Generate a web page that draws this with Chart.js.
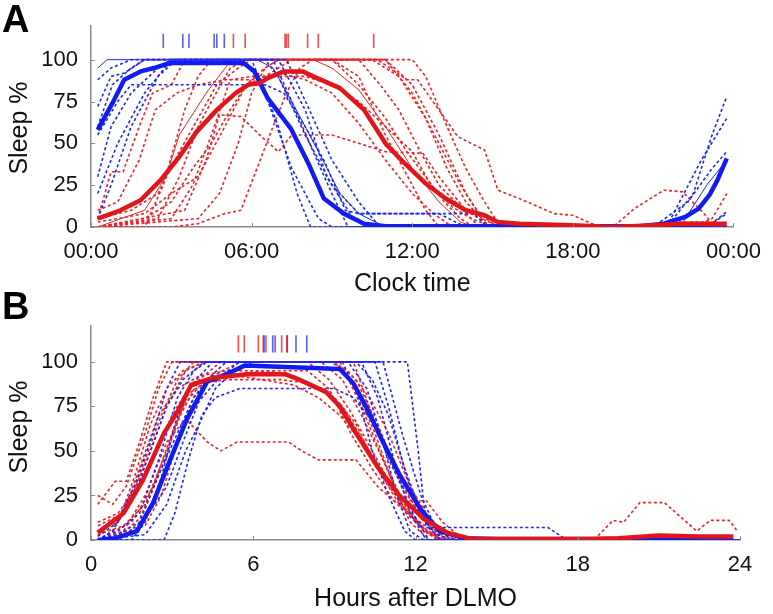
<!DOCTYPE html>
<html>
<head>
<meta charset="utf-8">
<script src="https://cdn.jsdelivr.net/npm/chart.js@4.4.1/dist/chart.umd.min.js"></script>
<style>
  body { margin: 0; background: #fff; }
  #wrap { position: relative; width: 773px; height: 614px; overflow: hidden; }
  .panel { position: absolute; left: 0; width: 773px; }
  .letter { position: absolute; left: 2px; font: bold 38px "Liberation Sans", Arial, sans-serif; line-height: 38px; color: #000; }
</style>
</head>
<body>
<div id="wrap">
  <div class="panel" style="top:0;height:300px"><canvas id="chartA" width="773" height="300"></canvas></div>
  <div class="panel" style="top:300px;height:314px"><canvas id="chartB" width="773" height="314"></canvas></div>
  <div class="letter" style="top:0px">A</div>
  <div class="letter" style="top:287px">B</div>
</div>
<script>
// Tick values and labels
const yTickValues = [0, 25, 50, 75, 100];
const xTickValues = [0, 6, 12, 18, 24];
const xLabelsA = ['00:00', '06:00', '12:00', '18:00', '00:00'];
const xLabelsB = ['0', '6', '12', '18', '24'];

// Panel A: sleep % by clock time, one [hour, value] list per subject
const blueA = [
    [[0.25,88],[0.75,95],[1.5,100],[5.5,100],[6.3,90],[7,60],[7.7,20],[8.2,0],[23,0],[23.75,8]],
    [[0.25,72],[0.75,90],[1.25,92],[2,100],[6,100],[6.5,80],[7.5,35],[8.5,5],[9,0],[21.5,0],[22.5,20],[23.2,55],[23.75,78]],
    [[0.25,55],[1,75],[1.5,85],[6.5,85],[7.2,80],[8,60],[8.7,40],[9.5,10],[10,8],[14.3,8],[14.8,0],[23.75,0]],
    [[0.25,30],[0.75,60],[1.5,80],[2.5,95],[3,100],[6.8,100],[7.5,75],[8.3,45],[9,20],[9.6,0],[21,0],[22.3,15],[23.2,35],[23.75,45]],
    [[0.25,20],[1,50],[2,80],[3,100],[7,100],[8,70],[8.8,30],[9.8,5],[10.3,0],[23.75,0]],
    [[0.25,5],[0.75,25],[1.5,60],[2.5,90],[3.2,100],[7.3,100],[8.3,65],[9,40],[10,15],[10.8,0],[23,0],[23.75,9]],
    [[0.25,95],[0.6,100],[6.2,100],[6.8,95],[7.6,72],[8.5,45],[9.3,20],[10,8],[11,0],[22,0],[23,25],[23.75,40]],
    [[0.25,60],[0.8,85],[1.5,95],[2,100],[6.5,100],[7,90],[8,55],[9,25],[10,8],[13,8],[14,0],[21.5,0],[22.8,40],[23.75,65]]
];
const redA = [
    [[0.25,5],[0.75,33],[1.2,33],[1.8,60],[2.3,80],[3,85],[3.5,100],[9,100],[10,90],[11,55],[12,25],[12.5,10],[13,0],[23.75,0]],
    [[0.25,0],[2,10],[2.8,30],[3.3,55],[4.3,80],[5.25,100],[8.3,100],[9,95],[10,82],[11,60],[12,35],[13,15],[13.8,3],[14.3,0],[23.75,0]],
    [[0.25,0],[2,0],[2.7,25],[3.5,70],[4,90],[4.5,100],[10.7,100],[11.8,88],[12.2,88],[13.7,54],[14.7,46],[15.2,22],[16,17],[17.3,8],[18,7],[19,0],[23.75,0]],
    [[0.25,0],[2.5,5],[3.3,30],[4,60],[4.5,75],[5.2,95],[5.8,100],[11,100],[12,85],[13,55],[14,20],[14.8,0],[23.75,0]],
    [[0.25,0],[3,5],[3.8,25],[4.5,55],[5.2,88],[6,90],[8,90],[9,85],[10,75],[11,60],[12,45],[12.7,25],[13.5,12],[14.2,5],[15,0],[23.75,0]],
    [[0.25,0],[3.5,10],[4.3,40],[4.8,67],[5.6,66],[6.3,55],[7,45],[7.5,55],[9,55],[10,50],[11,45],[12.4,44],[13,30],[14,10],[15,0],[23.75,0]],
    [[0.25,0],[4,5],[4.8,20],[5.5,50],[6,80],[6.5,95],[7,100],[12,100],[12.5,90],[13.3,60],[14,35],[14.7,15],[15.3,0],[23.75,0]],
    [[0.25,0],[3,0],[4,2],[5,8],[5.6,10],[6.2,35],[6.8,60],[7.3,80],[7.8,95],[8.3,100],[11,100],[12,80],[13,50],[13.8,25],[14.5,8],[15.2,0],[23.75,0]],
    [[0.25,10],[1,15],[1.8,40],[2.4,70],[3.2,80],[4,85],[5,88],[6,88],[7,92],[8,88],[9,80],[10,62],[11,40],[12,20],[12.8,8],[13.5,0],[19.5,0],[20.3,11],[21.4,22],[22.1,21],[22.9,8],[23.3,0],[23.75,0]],
    [[0.25,5],[1.5,10],[2.5,20],[3.3,45],[4,65],[4.7,85],[5.5,95],[6,100],[10,100],[10.8,85],[11.5,70],[12.3,45],[13,25],[13.8,12],[14.5,0],[22.5,0],[23.2,5],[23.75,20]],
    [[0.25,0],[2,5],[3,15],[3.8,35],[4.5,50],[5.2,70],[5.8,85],[6.5,90],[7.5,100],[9,100],[10,85],[11,65],[11.8,45],[12.5,30],[13.2,15],[13.8,5],[14.3,0],[21,0],[22,3],[23,3],[23.75,0]],
    [[0.25,3],[1,5],[2,8],[3,20],[4,30],[5,60],[5.8,85],[6.5,95],[7,100],[10.5,100],[11.5,90],[12.5,65],[13.3,35],[14,15],[14.6,5],[15.3,0],[23.75,0]]
];
const blueMeanA = [[0.25,58],[0.8,74],[1.24,88],[1.85,93],[2.35,95],[2.95,98],[5.7,98],[6.1,93],[6.6,77],[7.46,59],[8.15,37],[8.7,17],[9.45,8],[10.2,2],[11,0.5],[20.5,0.5],[21.4,2],[22.2,6],[22.7,11],[23.1,19],[23.4,28],[23.75,41]];
const redMeanA = [[0.25,5],[1.1,10],[1.85,16],[2.6,28],[3.3,42],[3.95,57],[4.7,70],[5.4,80],[5.87,85],[6.3,86],[6.6,89],[7.2,93],[7.9,93],[8.3,90],[9.3,83],[10.2,70],[11,50],[11.65,39],[12.5,26],[13.25,17],[14,10],[14.7,7],[15.2,3],[16,2],[18,1],[19.5,0],[21,1],[22,2],[23.75,2]];
const blueRugA = [2.7, 3.43, 3.66, 4.6, 4.7, 4.98];
const redRugA = [5.32, 5.76, 7.25, 7.3, 7.37, 8.09, 8.49, 10.56];

// Panel B: sleep % by hours after DLMO
const blueB = [
    [[0.25,0],[1,5],[1.8,15],[2.5,45],[3.2,80],[3.8,95],[4.3,100],[9.5,100],[10.2,85],[10.8,55],[11.3,25],[11.8,5],[12.3,0],[24,0]],
    [[0.25,0],[1.5,0],[2,10],[2.6,35],[3.1,65],[3.6,85],[4.5,100],[10,100],[10.6,80],[11.2,45],[11.8,15],[12.4,0],[24,0]],
    [[0.25,0],[2.7,0],[3.1,15],[3.6,45],[4.1,70],[4.6,80],[5.5,85],[9,85],[9.7,80],[10.5,65],[11.2,40],[11.9,15],[12.5,0],[24,0]],
    [[0.25,0],[0.8,5],[1.6,30],[2.3,60],[2.8,85],[3.3,100],[11.7,100],[12.1,50],[12.4,7],[13,7],[16.9,7],[17.6,0],[24,0]],
    [[0.25,0],[1,3],[1.8,10],[2.6,40],[3.2,60],[3.8,80],[4.3,90],[5,100],[9.8,100],[10.4,90],[11,70],[11.6,40],[12.3,12],[12.9,0],[24,0]],
    [[0.25,0],[2,3],[2.8,20],[3.5,50],[4,65],[4.6,85],[5.3,95],[6,100],[9.3,100],[9.9,80],[10.4,50],[11,25],[11.6,5],[12,0],[24,0]],
    [[0.25,2],[1,10],[1.6,25],[2.2,50],[2.8,75],[3.4,90],[4.2,100],[10.5,100],[11,75],[11.5,45],[12,20],[12.6,5],[13.2,0],[24,0]],
    [[0.25,0],[1.2,2],[2,12],[2.8,30],[3.4,55],[4,78],[4.8,92],[5.5,100],[10.8,100],[11.5,60],[12.2,25],[12.8,5],[13.5,0],[24,0]]
];
const redB = [
    [[0.25,20],[0.9,33],[1.3,33],[1.8,55],[2.3,80],[2.8,100],[9,100],[9.8,85],[10.5,60],[11.2,30],[11.8,10],[12.5,0],[24,0]],
    [[0.25,25],[0.8,20],[1.3,30],[2,60],[2.5,85],[3,100],[9.2,100],[10,75],[10.8,45],[11.5,20],[12.3,5],[13,0],[24,0]],
    [[0.25,5],[1,10],[1.6,35],[2.2,65],[2.8,85],[3.4,95],[4.2,100],[8.5,100],[9.3,90],[10,70],[10.8,45],[11.6,20],[12.4,5],[13,0],[24,0]],
    [[0.25,0],[1.2,5],[2,25],[2.8,55],[3.5,68],[4.3,55],[4.8,50],[5.4,55],[7.3,55],[7.8,50],[8.4,45],[9.8,45],[10.6,30],[11.2,22],[12.4,22],[13,10],[13.8,0],[24,0]],
    [[0.25,3],[1.2,8],[2,20],[2.8,50],[3.4,75],[4.1,88],[5,90],[7,90],[8,88],[9,80],[9.8,65],[10.6,40],[11.4,20],[12.2,8],[13,0],[24,0]],
    [[0.25,0],[1,2],[1.8,12],[2.6,40],[3.3,70],[4,90],[4.8,100],[8.8,100],[9.5,95],[10.3,80],[11,60],[11.8,30],[12.6,10],[13.3,0],[24,0]],
    [[0.25,8],[1.2,15],[1.9,45],[2.5,70],[3.2,85],[4,92],[5,95],[8,95],[8.8,85],[9.6,60],[10.4,40],[11.2,22],[12,10],[12.8,0],[24,0]],
    [[0.25,0],[1.5,10],[2.3,30],[3,60],[3.6,82],[4.4,90],[5.5,92],[7.5,87],[8.4,80],[9.2,70],[10,55],[10.8,35],[11.6,18],[12.4,5],[13.2,0],[18.6,0],[19.3,11],[19.7,10],[20.3,21],[21.2,21],[22.4,5],[22.9,11],[23.6,11],[23.9,5]],
    [[0.25,0],[0.8,5],[1.4,20],[2,45],[2.6,70],[3.2,90],[3.8,100],[9.7,100],[10.4,70],[11,45],[11.7,25],[12.5,8],[13.2,0],[24,0]],
    [[0.25,5],[1,12],[1.7,30],[2.4,50],[3,70],[3.6,85],[4.5,92],[6.5,95],[7.5,92],[8.5,85],[9.3,75],[10.1,55],[10.9,35],[11.7,15],[12.5,3],[13,0],[24,0]],
    [[0.25,0],[2,8],[2.6,25],[3.2,55],[3.8,80],[4.5,92],[5.5,100],[9,100],[9.8,90],[10.6,65],[11.4,35],[12.2,12],[13,2],[13.6,0],[24,0]],
    [[0.25,10],[1,15],[1.6,28],[2.2,50],[2.8,75],[3.5,95],[4.2,100],[8,100],[8.8,90],[9.6,72],[10.4,50],[11.2,28],[12,12],[12.8,3],[13.4,0],[24,0]]
];
const blueMeanB = [[0.25,0],[0.9,1],[1.7,5],[2.3,21],[2.9,44],[3.55,68],[4.3,89],[5,93],[5.7,98],[9.2,96],[9.7,88],[10.2,74],[10.7,58],[11.4,37],[12.2,17],[12.9,5],[13.8,1],[15,0.5],[23.75,0.5]];
const redMeanB = [[0.25,4],[1.2,15],[1.9,33],[2.7,60],[3.2,72],[3.7,87],[4.5,91],[5.8,93],[7.2,93],[7.7,90],[8.7,83],[9.2,75],[9.8,60],[10.6,41],[11.4,25],[12.3,12],[13.2,4],[14.1,0.5],[18.5,0.5],[19.5,1],[21,2.5],[22.5,2],[23.75,2]];
const blueRugB = [6.4, 6.72, 6.81, 7.26, 7.58, 7.98];
const redRugB = [5.45, 5.67, 6.19, 6.37, 6.47, 7.05, 7.24];

const RED = 'rgb(225,22,28)';
const BLUE = 'rgb(18,28,238)';
const RED_DASH = 'rgb(232,36,40)';
const BLUE_DASH = 'rgb(30,40,240)';
const RED_RUG = 'rgba(225,22,28,0.75)';
const BLUE_RUG = 'rgba(18,28,238,0.7)';
const AXIS = '#8a8a8a';
const FONT = '"Liberation Sans", Arial, Helvetica, sans-serif';

function toPts(list) {
    return list.map(p => ({ x: p[0], y: p[1] }));
}

function subjectSet(list, color, solidIndex) {
    return list.map((s, i) => ({
        data: toPts(s),
        borderColor: color,
        borderWidth: i === solidIndex ? 1 : 1.6,
        borderDash: i === solidIndex ? [] : [3, 2.5],
    }));
}

function rugSet(hours, color, lo, hi) {
    return hours.map(h => ({
        data: [{ x: h, y: lo }, { x: h, y: hi }],
        borderColor: color,
        borderWidth: 1.6,
    }));
}

// draws inward tick marks and the rotated y title
const axisExtras = {
    id: 'axisExtras',
    afterDraw(chart, args, opts) {
        const { ctx, chartArea, scales } = chart;
        ctx.save();
        ctx.strokeStyle = AXIS;
        ctx.lineWidth = 1;
        yTickValues.forEach(v => {
            const py = Math.round(scales.y.getPixelForValue(v)) + 0.5;
            ctx.beginPath();
            ctx.moveTo(chartArea.left, py);
            ctx.lineTo(chartArea.left + 4, py);
            ctx.stroke();
        });
        xTickValues.forEach(v => {
            const px = Math.round(scales.x.getPixelForValue(v)) + 0.5;
            ctx.beginPath();
            ctx.moveTo(px, chartArea.bottom);
            ctx.lineTo(px, chartArea.bottom - 4);
            ctx.stroke();
        });
        ctx.translate(opts.titleX, opts.titleY);
        ctx.rotate(-Math.PI / 2);
        ctx.font = '25px ' + FONT;
        ctx.fillStyle = '#111';
        ctx.textAlign = 'center';
        ctx.textBaseline = 'middle';
        ctx.fillText('Sleep %', 0, 0);
        ctx.restore();
    }
};

function makeChart(id, p) {
    const datasets = [
        { data: toPts(p.redMean), borderColor: RED, borderWidth: 4.5 },
        { data: toPts(p.blueMean), borderColor: BLUE, borderWidth: 4.5 },
        ...rugSet(p.redRug, RED_RUG, p.rugLo, p.rugHi),
        ...rugSet(p.blueRug, BLUE_RUG, p.rugLo, p.rugHi),
        ...subjectSet(p.blue, BLUE_DASH, p.blueSolid),
        ...subjectSet(p.red, RED_DASH, p.redSolid),
    ];
    datasets.forEach(d => {
        d.pointRadius = 0;
        d.fill = false;
        d.tension = 0;
        d.borderJoinStyle = 'round';
        d.borderCapStyle = 'butt';
    });

    return new Chart(document.getElementById(id), {
        type: 'line',
        data: { datasets },
        plugins: [axisExtras],
        options: {
            responsive: false,
            animation: false,
            devicePixelRatio: 1,
            layout: { padding: { top: p.top, right: 33, left: 0, bottom: 0 } },
            plugins: {
                legend: { display: false },
                tooltip: { enabled: false },
                axisExtras: { titleX: 20, titleY: p.yTitleY },
            },
            scales: {
                x: {
                    type: 'linear',
                    min: 0,
                    max: 24,
                    afterFit: s => { s.height = p.xHeight; },
                    afterBuildTicks: s => { s.ticks = xTickValues.map(v => ({ value: v })); },
                    ticks: {
                        autoSkip: false,
                        maxRotation: 0,
                        padding: p.tickPad,
                        color: '#111',
                        font: { size: 22, family: FONT },
                        callback: (v, i) => p.labels[i],
                    },
                    grid: { display: false, drawTicks: false },
                    border: { display: true, color: AXIS, width: 1.5 },
                    title: {
                        display: true,
                        text: p.xTitle,
                        color: '#111',
                        font: { size: 25, family: FONT },
                        padding: { top: 0, bottom: p.titlePad },
                    },
                },
                y: {
                    min: 0,
                    max: 120,
                    afterFit: s => { s.width = 91; },
                    afterBuildTicks: s => { s.ticks = yTickValues.map(v => ({ value: v })); },
                    ticks: {
                        padding: 13,
                        color: '#111',
                        font: { size: 22, family: FONT },
                    },
                    grid: { display: false, drawTicks: false },
                    border: { display: true, color: AXIS, width: 1.5 },
                },
            },
        },
    });
}

makeChart('chartA', {
    top: 10, xHeight: 73, tickPad: 12, titlePad: 1, yTitleY: 128,
    labels: xLabelsA, xTitle: 'Clock time',
    blue: blueA, red: redA, blueSolid: 6, redSolid: 1,
    blueMean: blueMeanA, redMean: redMeanA,
    blueRug: blueRugA, redRug: redRugA, rugLo: 107, rugHi: 115.5,
});

makeChart('chartB', {
    top: 12, xHeight: 74, tickPad: 12, titlePad: 0, yTitleY: 127,
    labels: xLabelsB, xTitle: 'Hours after DLMO',
    blue: blueB, red: redB, blueSolid: -1, redSolid: -1,
    blueMean: blueMeanB, redMean: redMeanB,
    blueRug: blueRugB, redRug: redRugB, rugLo: 105.3, rugHi: 114.9,
});
</script>
</body>
</html>
